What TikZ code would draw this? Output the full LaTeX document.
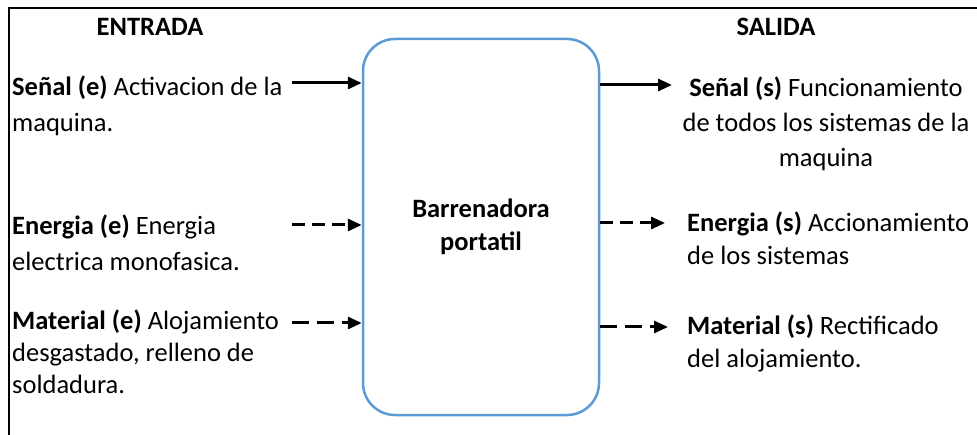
\documentclass[tikz,border=0pt]{standalone}
\usepackage{fontspec}
\setmainfont{Carlito}
\usetikzlibrary{arrows.meta}
\definecolor{boxblue}{HTML}{5B9BD5}
\begin{document}
\begin{tikzpicture}[x=1pt,y=-1pt,
  % text blocks are placed by the baseline of their last line
  txt/.style={inner sep=0pt, font=\fontsize{26.5}{#1}\selectfont, align=left, anchor=base west},
  txtc/.style={inner sep=0pt, font=\fontsize{26.5}{#1}\selectfont, align=center, anchor=base},
  head/.style={inner sep=0pt, font=\fontsize{26.5}{30}\selectfont\bfseries, anchor=base},
  flow/.style={line width=3pt, -{Triangle[length=14pt,width=12pt]}},
  shortdash/.style={dash pattern=on 13pt off 7pt},
  longdash/.style={dash pattern=on 17pt off 8pt}]
\useasboundingbox (0,0) rectangle (977,435);
% frame
\draw[line width=1.4pt] (9,435) -- (9,8) -- (977,8);
% headings
\node[head] (hin) at (150,36) {ENTRADA};
\node[head] (hout) at (776,36) {SALIDA};
% machine block
\node[draw=boxblue, line width=2.5pt, rounded corners=32pt,
      minimum width=236pt, minimum height=376pt, align=center,
      font=\fontsize{26.5}{33}\selectfont\bfseries] (mq) at (481,227) {Barrenadora\\portatil};
% inputs
\node[txt=36] (in1) at (12,132) {\textbf{Señal (e)} Activacion de la\\maquina.};
\node[txt=36] (in2) at (12,271) {\textbf{Energia (e)} Energia\\electrica monofasica.};
\node[txt=32] (in3) at (12,393) {\textbf{Material (e)} Alojamiento\\desgastado, relleno de\\soldadura.};
% outputs
\node[txtc=35] (out1) at (826,167) {\textbf{Señal (s)} Funcionamiento\\de todos los sistemas de la\\maquina};
\node[txt=33] (out2) at (687,265) {\textbf{Energia (s)} Accionamiento\\de los sistemas};
\node[txt=33] (out3) at (687,368) {\textbf{Material (s)} Rectificado\\del alojamiento.};
% connector ends
\coordinate (a1) at (292,83);
\coordinate (a2) at (292,225);
\coordinate (a3) at (292,323);
\coordinate (b1) at (672,85);
\coordinate (b2) at (665,223);
\coordinate (b3) at (668,327);
\draw[flow] (a1) -- (a1 -| mq.west);
\draw[flow, shortdash] (a2) -- (a2 -| mq.west);
\draw[flow, longdash] (a3) -- (a3 -| mq.west);
\draw[flow] (b1 -| mq.east) -- (b1);
\draw[flow, shortdash] (b2 -| mq.east) -- (b2);
\draw[flow, longdash] (b3 -| mq.east) -- (b3);
\end{tikzpicture}
\end{document}
